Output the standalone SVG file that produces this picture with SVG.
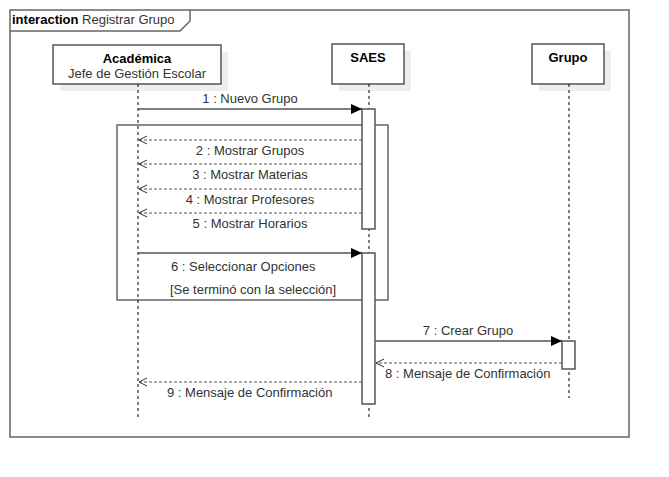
<svg xmlns="http://www.w3.org/2000/svg" width="669" height="477" viewBox="0 0 669 477">
<defs>
<marker id="sync" markerWidth="12" markerHeight="10" refX="11" refY="5" orient="auto" markerUnits="userSpaceOnUse">
<path d="M0,0 L11,5 L0,10 Z" fill="#000"/>
</marker>
<marker id="ret" markerWidth="10" markerHeight="10" refX="9" refY="5" orient="auto" markerUnits="userSpaceOnUse">
<path d="M1,1 L9,5 L1,9" fill="none" stroke="#333" stroke-width="1"/>
</marker>
</defs>
<style>
text{font-family:"Liberation Sans",Arial,sans-serif;font-size:13px;fill:#333}
.b{font-weight:bold;fill:#000}
.frame{fill:none;stroke:#666;stroke-width:1.5}
.box{fill:#fff;stroke:#555;stroke-width:1.5}
.shadow{fill:#eee}
.life{stroke:#000;stroke-width:1;stroke-dasharray:3,3}
.act{fill:#fff;stroke:#555;stroke-width:1.5}
.msg{stroke:#555;stroke-width:1.5;fill:none}
.rmsg{stroke:#555;stroke-width:1;stroke-dasharray:3,2;fill:none}
</style>
<rect x="0" y="0" width="669" height="477" fill="#fff"/>
<g id="frame">
<rect class="frame" x="10" y="10" width="619" height="427"/>
<path class="frame" d="M10,31 H180 L190,21 V10"/>
<text x="12" y="24"><tspan class="b">interaction</tspan> Registrar Grupo</text>
</g>
<g id="fragment">
<rect class="frame" x="117" y="125" width="271" height="175"/>
<text x="170" y="294">[Se terminó con la selección]</text>
</g>
<g id="academica">
<rect class="shadow" x="60" y="52" width="168" height="39"/>
<rect class="box" x="53" y="45" width="168" height="39"/>
<text class="b" x="137" y="63" text-anchor="middle">Académica</text>
<text x="137" y="78" text-anchor="middle">Jefe de Gestión Escolar</text>
<line class="life" x1="138" y1="84" x2="138" y2="420"/>
</g>
<g id="saes">
<rect class="shadow" x="339" y="51" width="72" height="40"/>
<rect class="box" x="332" y="44" width="72" height="40"/>
<text class="b" x="368" y="62" text-anchor="middle">SAES</text>
<line class="life" x1="369" y1="84" x2="369" y2="420"/>
<rect class="act" x="362" y="109" width="13" height="120"/>
<rect class="act" x="362" y="253" width="13" height="151"/>
</g>
<g id="grupo">
<rect class="shadow" x="539" y="51" width="72" height="40"/>
<rect class="box" x="532" y="44" width="72" height="40"/>
<text class="b" x="568" y="62" text-anchor="middle">Grupo</text>
<line class="life" x1="569" y1="84" x2="569" y2="398"/>
<rect class="act" x="562" y="341" width="13" height="28"/>
</g>
<g id="connectors">
<line class="msg" x1="138" y1="109" x2="362" y2="109" marker-end="url(#sync)"/>
<text x="250" y="103" text-anchor="middle">1 : Nuevo Grupo</text>
<line class="rmsg" x1="362" y1="140" x2="139" y2="140" marker-end="url(#ret)"/>
<text x="250" y="155" text-anchor="middle">2 : Mostrar Grupos</text>
<line class="rmsg" x1="362" y1="164" x2="139" y2="164" marker-end="url(#ret)"/>
<text x="250" y="179" text-anchor="middle">3 : Mostrar Materias</text>
<line class="rmsg" x1="362" y1="189" x2="139" y2="189" marker-end="url(#ret)"/>
<text x="250" y="204" text-anchor="middle">4 : Mostrar Profesores</text>
<line class="rmsg" x1="362" y1="213" x2="139" y2="213" marker-end="url(#ret)"/>
<text x="250" y="228" text-anchor="middle">5 : Mostrar Horarios</text>
<line class="msg" x1="138" y1="253" x2="362" y2="253" marker-end="url(#sync)"/>
<text x="171" y="271">6 : Seleccionar Opciones</text>
<line class="msg" x1="375" y1="341" x2="562" y2="341" marker-end="url(#sync)"/>
<text x="468" y="335" text-anchor="middle">7 : Crear Grupo</text>
<line class="rmsg" x1="562" y1="363" x2="376" y2="363" marker-end="url(#ret)"/>
<text x="385" y="378">8 : Mensaje de Confirmación</text>
<line class="rmsg" x1="362" y1="382" x2="139" y2="382" marker-end="url(#ret)"/>
<text x="167" y="397">9 : Mensaje de Confirmación</text>
</g>
</svg>
